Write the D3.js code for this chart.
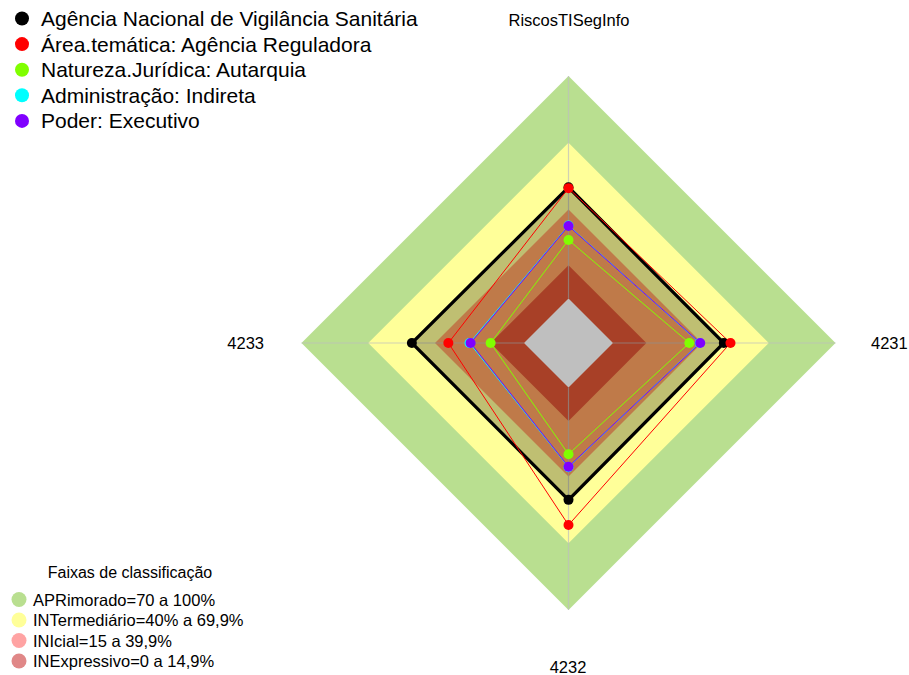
<!DOCTYPE html>
<html>
<head>
<meta charset="utf-8">
<script src="https://cdn.jsdelivr.net/npm/d3@7"></script>
<style>
  body { margin: 0; background: #fff; }
  text { font-family: "Liberation Sans", Arial, sans-serif; fill: #000; }
</style>
</head>
<body>
<div id="radar"></div>
<script>
// eixos do radar (sentido horario a partir do topo)
var axes = ["RiscosTISegInfo", "4231", "4232", "4233"];

// series (percentual por eixo)
var seriesNames = ["Agência Nacional de Vigilância Sanitária",
                   "Área.temática: Agência Reguladora",
                   "Natureza.Jurídica: Autarquia",
                   "Administração: Indireta",
                   "Poder: Executivo"];
var seriesColors = ["#000000", "#FF0000", "#80FF00", "#00FFFF", "#8000FF"];
var anvisa     = [50.0, 49.8, 50.5, 50.4];
var areaTem    = [49.6, 52.8, 61.8, 34.0];
var natJur     = [26.3, 34.3, 30.0, 15.0];
var adminInd   = [32.8, 39.0, 35.8, 24.5];
var poderExec  = [32.6, 39.2, 35.6, 24.0];
var seriesValues = [anvisa, areaTem, natJur, adminInd, poderExec];

// faixas de classificacao
var bandNames  = ["APRimorado=70 a 100%", "INTermediário=40% a 69,9%",
                  "INIcial=15 a 39,9%", "INExpressivo=0 a 14,9%"];
var bandTop    = [100, 70, 40, 15];
var bandColors = ["#B9DF90", "#FFFF99", "rgba(255,0,0,0.36)", "rgba(190,0,0,0.47)"];

function build_radar() {

    var width = 909,
    height = 675,
    cx = 568.5,
    cy = 343;

    var svg = d3.select("#radar")
        .append("svg")
            .attr("width", width)
            .attr("height", height);

    var g = svg.append("g")
        .attr("transform", "translate(" + cx + "," + cy + ")");

    var rScale = d3.scaleLinear()
        .domain([-20, 100])
        .range([0, 267]);

    var aScale = d3.scaleLinear()
        .domain([0, axes.length])
        .range([0, 2 * Math.PI]);

    var radial = d3.lineRadial()
        .angle(function(d, i){ return aScale(i); })
        .radius(function(d){ return rScale(d); })
        .curve(d3.curveLinearClosed);

    // faixas
    bandTop.forEach(function(v, k) {
        g.append("path")
            .attr("d", radial(axes.map(function(){ return v; })))
            .attr("fill", bandColors[k]);
    });
    // centro (abaixo de zero)
    g.append("path")
        .attr("d", radial(axes.map(function(){ return 0; })))
        .attr("fill", "#fff");

    // eixos
    g.selectAll(".axis")
        .data(axes)
        .enter()
        .append("line")
            .attr("x1", function(d, i){ return rScale(0) * Math.sin(aScale(i)); })
            .attr("y1", function(d, i){ return -rScale(0) * Math.cos(aScale(i)); })
            .attr("x2", function(d, i){ return rScale(100) * Math.sin(aScale(i)); })
            .attr("y2", function(d, i){ return -rScale(100) * Math.cos(aScale(i)); })
            .attr("stroke", "#BEBEBE")
            .attr("stroke-opacity", 0.7)
            .attr("stroke-width", 1.2);

    // series, na ordem (a ultima fica por cima)
    seriesValues.forEach(function(vals, s) {
        g.append("path")
            .attr("d", radial(vals))
            .attr("fill", s == 0 ? "rgba(0,0,0,0.25)" : "none")
            .attr("stroke", seriesColors[s])
            .attr("stroke-width", s == 0 ? 3.2 : 1)
            .attr("stroke-linejoin", "miter");
    });
    seriesValues.forEach(function(vals, s) {
        g.append("g")
            .selectAll("circle")
            .data(vals)
            .enter()
            .append("circle")
                .attr("cx", function(d, i){ return rScale(d) * Math.sin(aScale(i)); })
                .attr("cy", function(d, i){ return -rScale(d) * Math.cos(aScale(i)); })
                .attr("r", 5)
                .attr("fill", seriesColors[s]);
    });

    // rotulos dos eixos
    var labelPos = [[569, 26, "middle"], [871, 349, "start"], [568, 673, "middle"], [264, 349, "end"]];
    svg.selectAll(".alabel")
        .data(axes)
        .enter()
        .append("text")
            .attr("x", function(d, i){ return labelPos[i][0]; })
            .attr("y", function(d, i){ return labelPos[i][1]; })
            .attr("text-anchor", function(d, i){ return labelPos[i][2]; })
            .style("font-size", "16.5px")
            .text(function(d){ return d; });

    // legenda das series
    var leg = svg.append("g");
    seriesNames.forEach(function(n, i) {
        leg.append("circle")
            .attr("cx", 22)
            .attr("cy", 18.5 + i * 25.6)
            .attr("r", 7)
            .attr("fill", seriesColors[i]);
        leg.append("text")
            .attr("x", 41)
            .attr("y", 18.5 + i * 25.6 + 7.5)
            .style("font-size", "21px")
            .text(n);
    });

    // legenda das faixas
    var leg2 = svg.append("g");
    leg2.append("text")
        .attr("x", 130)
        .attr("y", 578)
        .attr("text-anchor", "middle")
        .style("font-size", "16px")
        .text("Faixas de classificação");
    bandNames.forEach(function(n, i) {
        leg2.append("circle")
            .attr("cx", 19)
            .attr("cy", 599.5 + i * 20.5)
            .attr("r", 7.5)
            .attr("fill", bandColors[i]);
        leg2.append("text")
            .attr("x", 33)
            .attr("y", 599.5 + i * 20.5 + 6)
            .style("font-size", "16.5px")
            .text(n);
    });
}
build_radar()
</script>
</body>
</html>
